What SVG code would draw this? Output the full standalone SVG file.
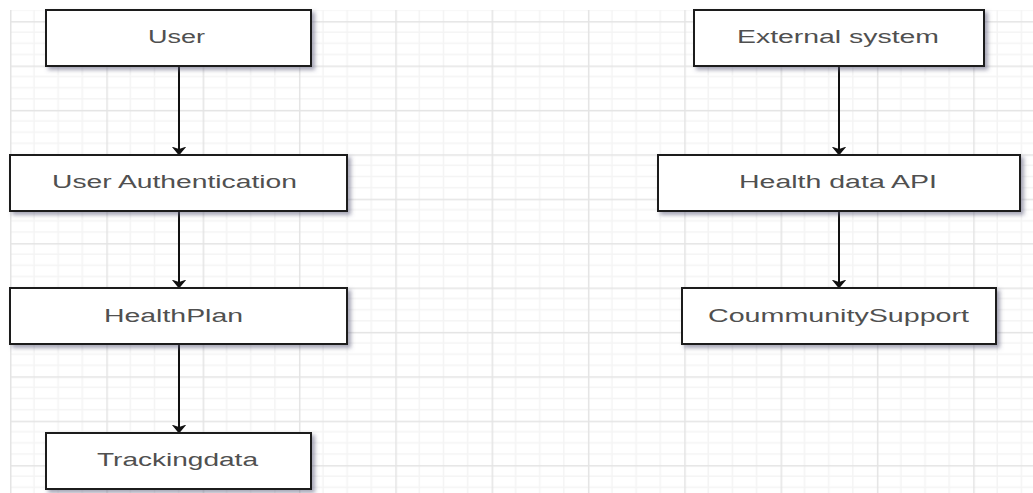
<svg xmlns="http://www.w3.org/2000/svg" width="1033" height="493" viewBox="0 0 1033 493">
<style>
.box{fill:#ffffff;stroke:#1c1c1c;stroke-width:2;filter:url(#sh)}
.lbl{font-family:"Liberation Sans",Arial,sans-serif;font-size:18px;fill:#505050;text-anchor:middle}
.conn{stroke:#111111;stroke-width:2;fill:none;marker-end:url(#ah)}
</style>
<defs>
<pattern id="grid" patternUnits="userSpaceOnUse" x="10" y="21.1" width="96.32" height="44.4">
<g stroke="#f4f4f4" stroke-width="1.5">
<line x1="24.08" y1="0" x2="24.08" y2="44.4"/>
<line x1="48.16" y1="0" x2="48.16" y2="44.4"/>
<line x1="72.24" y1="0" x2="72.24" y2="44.4"/>
<line x1="0" y1="11.1" x2="96.32" y2="11.1"/>
<line x1="0" y1="22.2" x2="96.32" y2="22.2"/>
<line x1="0" y1="33.3" x2="96.32" y2="33.3"/>
</g>
<g stroke="#e4e4e4" stroke-width="1.5">
<line x1="0.75" y1="0" x2="0.75" y2="44.4"/>
<line x1="0" y1="0.75" x2="96.32" y2="0.75"/>
</g>
</pattern>
<filter id="sh" x="-10%" y="-20%" width="125%" height="150%">
<feGaussianBlur in="SourceAlpha" stdDeviation="2.2"/>
<feOffset dx="3" dy="3" result="b"/>
<feFlood flood-color="#5a5a78" flood-opacity="0.55"/>
<feComposite in2="b" operator="in"/>
<feMerge><feMergeNode/><feMergeNode in="SourceGraphic"/></feMerge>
</filter>
<marker id="ah" viewBox="0 0 9 15" refX="8.5" refY="7.5" markerWidth="9" markerHeight="15" markerUnits="userSpaceOnUse" orient="auto">
<path d="M0,0 L9,7.5 L0,15 L2.5,7.5 Z" fill="#111111"/>
</marker>
</defs>
<rect x="0" y="0" width="1033" height="493" fill="#ffffff"/>
<rect x="10" y="10" width="1023" height="483" fill="url(#grid)"/>
<g id="connectors">
<line class="conn" x1="179" y1="67" x2="179" y2="155"/>
<line class="conn" x1="179" y1="212" x2="179" y2="288"/>
<line class="conn" x1="179" y1="345" x2="179" y2="433"/>
<line class="conn" x1="839" y1="67" x2="839" y2="155"/>
<line class="conn" x1="839" y1="212" x2="839" y2="288"/>
</g>
<g id="user">
<rect class="box" x="46" y="10" width="265" height="56"/>
<text class="lbl" x="176.5" y="43.3" textLength="57" lengthAdjust="spacingAndGlyphs">User</text>
</g>
<g id="user-authentication">
<rect class="box" x="10" y="155" width="337" height="56"/>
<text class="lbl" x="174.5" y="188.3" textLength="245" lengthAdjust="spacingAndGlyphs">User Authentication</text>
</g>
<g id="healthplan">
<rect class="box" x="10" y="288" width="337" height="56"/>
<text class="lbl" x="173.5" y="321.7" textLength="139" lengthAdjust="spacingAndGlyphs">HealthPlan</text>
</g>
<g id="trackingdata">
<rect class="box" x="46" y="433" width="265" height="56"/>
<text class="lbl" x="177.5" y="466" textLength="161" lengthAdjust="spacingAndGlyphs">Trackingdata</text>
</g>
<g id="external-system">
<rect class="box" x="694" y="10" width="290" height="56"/>
<text class="lbl" x="838" y="43.3" textLength="202" lengthAdjust="spacingAndGlyphs">External system</text>
</g>
<g id="health-data-api">
<rect class="box" x="658" y="155" width="362" height="56"/>
<text class="lbl" x="838" y="188.3" textLength="198" lengthAdjust="spacingAndGlyphs">Health data API</text>
</g>
<g id="community-support">
<rect class="box" x="682" y="288" width="314" height="56"/>
<text class="lbl" x="838.5" y="321.7" textLength="261" lengthAdjust="spacingAndGlyphs">CoummunitySupport</text>
</g>
</svg>
